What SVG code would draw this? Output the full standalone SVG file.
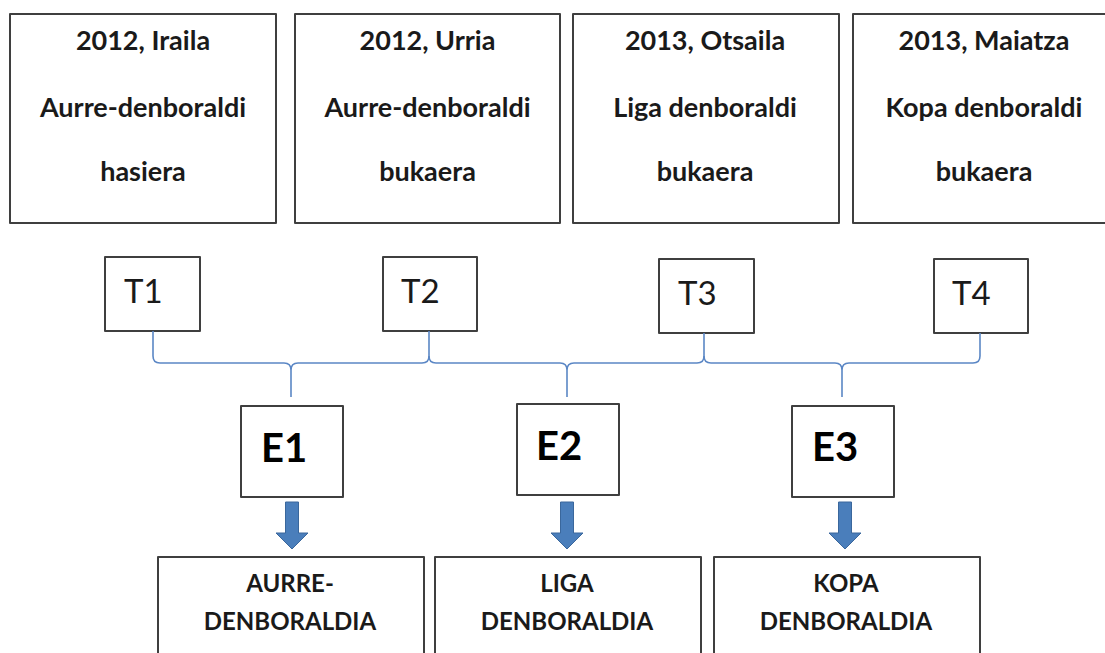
<svg xmlns="http://www.w3.org/2000/svg" width="1105" height="653" viewBox="0 0 1105 653">
<style>
.box{fill:#fff;stroke:#3f3f3f;stroke-width:2;stroke-linejoin:round}
.top{font-family:Lato,"Open Sans",sans-serif;font-weight:bold;font-size:27px;fill:#1a1a1a;text-anchor:middle}
.t{font-family:Lato,"Open Sans",sans-serif;font-size:33px;fill:#1a1a1a}
.e{font-family:Lato,"Open Sans",sans-serif;font-weight:bold;font-size:40px;fill:#000}
.bot{font-family:Lato,"Open Sans",sans-serif;font-weight:bold;font-size:24px;fill:#1a1a1a;text-anchor:middle}
.brace{fill:none;stroke:#5b87c5;stroke-width:1.6}
.arrow{fill:#4a7ebb;stroke:#3a679c;stroke-width:1}
</style>
<rect width="1105" height="653" fill="#fff"/>
<g id="date1"><rect class="box" x="10" y="14" width="266" height="209"/>
<text class="top" x="143" y="50">2012, Iraila</text><text class="top" x="143" y="117">Aurre-denboraldi</text><text class="top" x="143" y="181">hasiera</text></g>
<g id="date2"><rect class="box" x="295" y="14" width="265" height="209"/>
<text class="top" x="427.5" y="50">2012, Urria</text><text class="top" x="427.5" y="117">Aurre-denboraldi</text><text class="top" x="427.5" y="181">bukaera</text></g>
<g id="date3"><rect class="box" x="573" y="14" width="266" height="209"/>
<text class="top" x="705" y="50">2013, Otsaila</text><text class="top" x="705" y="117">Liga denboraldi</text><text class="top" x="705" y="181">bukaera</text></g>
<g id="date4"><rect class="box" x="853" y="14" width="266" height="209"/>
<text class="top" x="984" y="50">2013, Maiatza</text><text class="top" x="984" y="117">Kopa denboraldi</text><text class="top" x="984" y="181">bukaera</text></g>
<g id="T1"><rect class="box" x="105" y="257" width="95" height="74"/><text class="t" x="124" y="303">T1</text></g>
<g id="T2"><rect class="box" x="383" y="257" width="94" height="74"/><text class="t" x="401" y="303">T2</text></g>
<g id="T3"><rect class="box" x="659" y="259" width="95" height="74"/><text class="t" x="678" y="305">T3</text></g>
<g id="T4"><rect class="box" x="934" y="259" width="94" height="74"/><text class="t" x="952" y="305">T4</text></g>
<g id="E1"><rect class="box" x="241" y="406" width="102" height="91"/><text class="e" x="261" y="462">E1</text></g>
<g id="E2"><rect class="box" x="517" y="404" width="102" height="91"/><text class="e" x="536" y="460">E2</text></g>
<g id="E3"><rect class="box" x="792" y="406" width="102" height="91"/><text class="e" x="812" y="461">E3</text></g>
<g id="S1"><rect class="box" x="158" y="557" width="266" height="110"/><text class="bot" x="290" y="592">AURRE-</text><text class="bot" x="290" y="630">DENBORALDIA</text></g>
<g id="S2"><rect class="box" x="435" y="557" width="266" height="110"/><text class="bot" x="567" y="592">LIGA</text><text class="bot" x="567" y="630">DENBORALDIA</text></g>
<g id="S3"><rect class="box" x="714" y="557" width="266" height="110"/><text class="bot" x="846" y="592">KOPA</text><text class="bot" x="846" y="630">DENBORALDIA</text></g>
<g id="connectors">
<path class="brace" d="M153,331 V356 Q153,363 160,363 H284 Q291,363 291,370 V397 M291,370 Q291,363 298,363 H422 Q429,363 429,356 V331"/>
<path class="brace" d="M429,356 Q429,363 436,363 H560 Q567,363 567,370 V397 M567,370 Q567,363 574,363 H697 Q704,363 704,356 V333"/>
<path class="brace" d="M704,356 Q704,363 711,363 H835 Q842,363 842,370 V397 M842,370 Q842,363 849,363 H973 Q980,363 980,356 V333"/>
<path class="arrow" d="M285.5,502 H298.5 V533 H308 L292,549 L276,533 H285.5 Z"/>
<path class="arrow" d="M560.5,502 H573.5 V533 H583 L567,549 L551,533 H560.5 Z"/>
<path class="arrow" d="M838.5,502 H851.5 V533 H861 L845,549 L829,533 H838.5 Z"/>
</g>
</svg>
